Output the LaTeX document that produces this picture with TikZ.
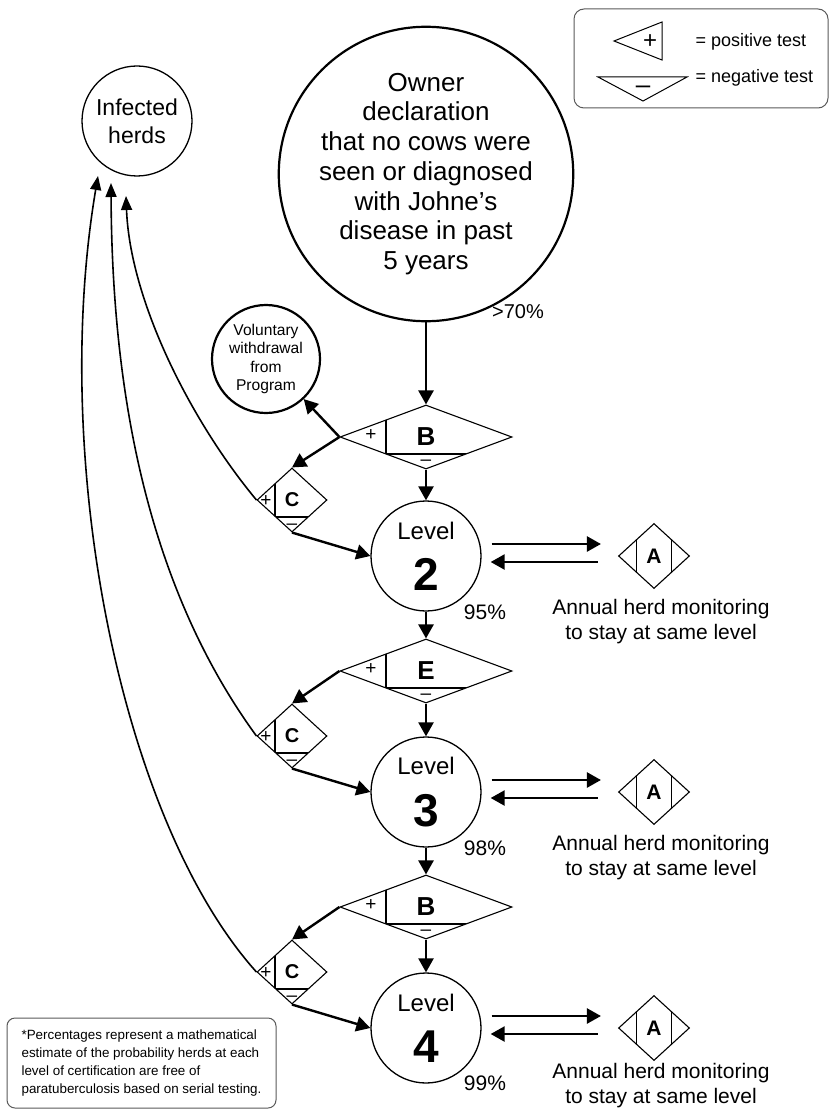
\documentclass[tikz,border=0pt]{standalone}
\usepackage{fontspec}
\setmainfont{Liberation Sans}
\usetikzlibrary{arrows.meta}
\usetikzlibrary{shapes.geometric}

\tikzset{
	bigtest/.style={diamond,draw,line width=1.1pt,inner sep=0pt,
		minimum width=172pt,minimum height=64pt,font=\fontsize{26}{26}\selectfont\bfseries,
		path picture={
			\draw[line width=1.1pt] ([shift={(-40pt,40pt)}]path picture bounding box.center)
				-- ([shift={(-40pt,-40pt)}]path picture bounding box.center);
			\draw[line width=1.1pt] ([shift={(-90pt,-17pt)}]path picture bounding box.center)
				-- ([shift={(90pt,-17pt)}]path picture bounding box.center);
		}},
	smalltest/.style={diamond,draw,line width=1.1pt,inner sep=0pt,
		minimum width=70pt,minimum height=64pt,font=\fontsize{20}{20}\selectfont\bfseries,
		path picture={
			\draw[line width=1.1pt] ([shift={(-17pt,40pt)}]path picture bounding box.center)
				-- ([shift={(-17pt,-40pt)}]path picture bounding box.center);
			\draw[line width=1.1pt] ([shift={(-40pt,-17pt)}]path picture bounding box.center)
				-- ([shift={(40pt,-17pt)}]path picture bounding box.center);
		}},
	annualtest/.style={diamond,draw,line width=1.1pt,inner sep=0pt,
		minimum width=71pt,minimum height=65pt,font=\fontsize{21}{21}\selectfont\bfseries,
		path picture={
			\draw[line width=1.1pt] ([shift={(-17.5pt,40pt)}]path picture bounding box.center)
				-- ([shift={(-17.5pt,-40pt)}]path picture bounding box.center);
			\draw[line width=1.1pt] ([shift={(17.5pt,40pt)}]path picture bounding box.center)
				-- ([shift={(17.5pt,-40pt)}]path picture bounding box.center);
		}},
	levelnode/.style={circle,draw,line width=1.3pt,minimum size=110pt,inner sep=0pt,align=center},
	signlabel/.style={font=\fontsize{19}{19}\selectfont,inner sep=0pt},
	monitortext/.style={align=center,font=\fontsize{21}{25}\selectfont},
	pctlabel/.style={font=\fontsize{21}{21}\selectfont},
	backarrow/.style={draw,line width=1.6pt,-{Triangle[length=14pt,width=11pt]}},
}

\begin{document}
\begin{tikzpicture}[x=1pt,y=-1pt]
	\useasboundingbox (0,0) rectangle (830,1110);

	% legend
	\draw[draw=black!65,line width=1pt,rounded corners=10pt] (574,9) rectangle (828,108);
	\draw[line width=1pt] (614,41) -- (662,22) -- (662,60) -- cycle;
	\draw[line width=1pt] (598,77) -- (687,77) -- (643,101) -- cycle;
	\node[font=\fontsize{24}{24}\selectfont,inner sep=0pt] (plus) at (650,42) {+};
	\node[font=\fontsize{26}{26}\selectfont,inner sep=0pt] (minus) at (643,90) {–};
	\node[anchor=west,font=\fontsize{18}{18}\selectfont] (postext) at (692,42) {= positive test};
	\node[anchor=west,font=\fontsize{18}{18}\selectfont] (negtext) at (692,78) {= negative test};

	\begin{scope}[every node/.style={circle,draw,align=center,inner sep=0pt}]
		\node[line width=2.2pt,minimum size=246pt,font=\fontsize{26}{29.7}\selectfont] (owner) at (426,174)
			{Owner\\declaration\\that no cows were\\seen or diagnosed\\with Johne's\\disease in past\\5 years};
		\node[line width=1.3pt,minimum size=110pt,font=\fontsize{23}{28}\selectfont] (inf) at (137,121)
			{Infected\\herds};
		\node[line width=2.2pt,minimum size=108pt,font=\fontsize{15.6}{18.5}\selectfont] (vol) at (266,359)
			{Voluntary\\withdrawal\\from\\Program};
	\end{scope}

	\node[levelnode] (lv2) at (426,556) {\fontsize{24}{24}\selectfont Level\\[18pt]\fontsize{46}{46}\selectfont\bfseries 2};
	\node[levelnode] (lv3) at (426,792) {\fontsize{24}{24}\selectfont Level\\[18pt]\fontsize{46}{46}\selectfont\bfseries 3};
	\node[levelnode] (lv4) at (426,1028) {\fontsize{24}{24}\selectfont Level\\[18pt]\fontsize{46}{46}\selectfont\bfseries 4};

	\node[bigtest] (b1) at (426,437) {B};
	\node[bigtest] (e2) at (426,671) {E};
	\node[bigtest] (b3) at (426,907) {B};

	\node[smalltest] (c1) at (292,500) {C};
	\node[smalltest] (c2) at (292,736) {C};
	\node[smalltest] (c3) at (292,972) {C};

	\node[annualtest] (a2) at (654,556) {A};
	\node[annualtest] (a3) at (654,792) {A};
	\node[annualtest] (a4) at (654,1028) {A};

	% plus and minus marks
	\node[signlabel] (b1p) at (371,435) {+};
	\node[signlabel] (b1m) at (426,463) {–};
	\node[signlabel] (e2p) at (371,669) {+};
	\node[signlabel] (e2m) at (426,697) {–};
	\node[signlabel] (b3p) at (371,905) {+};
	\node[signlabel] (b3m) at (426,933) {–};
	\node[signlabel] (c1p) at (266,501) {+};
	\node[signlabel] (c1m) at (292,527) {–};
	\node[signlabel] (c2p) at (266,737) {+};
	\node[signlabel] (c2m) at (292,763) {–};
	\node[signlabel] (c3p) at (266,973) {+};
	\node[signlabel] (c3m) at (292,999) {–};

	% percentages and captions
	\node[font=\fontsize{20}{20}\selectfont] (p1) at (518,312) {>70\%};
	\node[pctlabel] (p2) at (485,612) {95\%};
	\node[pctlabel] (p3) at (485,848) {98\%};
	\node[pctlabel] (p4) at (485,1083) {99\%};
	\node[monitortext] (m2) at (661,622) {Annual herd monitoring\\to stay at same level};
	\node[monitortext] (m3) at (661,858) {Annual herd monitoring\\to stay at same level};
	\node[monitortext] (m4) at (661,1086) {Annual herd monitoring\\to stay at same level};

	\node[draw=black!65,line width=1pt,rounded corners=8pt,align=left,inner sep=2pt,
		minimum width=269pt,minimum height=90pt,font=\fontsize{13.4}{18.3}\selectfont] (note) at (141.5,1063)
		{*Percentages represent a mathematical\\estimate of the probability herds at each\\level of certification are free of\\paratuberculosis based on serial testing.};

	\begin{scope}[every edge/.style={draw,line width=2.4pt},
				  >={Triangle[length=14pt,width=15pt]}]
		\path [->] (owner.south) edge (b1.north);
		\path [->] (b1.west) edge (vol);
		\path [->] (b1.west) edge (c1.north);
		\path [->] (b1.south) edge (lv2.north);
		\path [->] (c1.south) edge (lv2.west);
		\path [->] (lv2.south) edge (e2.north);
		\path [->] (e2.west) edge (c2.north);
		\path [->] (e2.south) edge (lv3.north);
		\path [->] (c2.south) edge (lv3.west);
		\path [->] (lv3.south) edge (b3.north);
		\path [->] (b3.west) edge (c3.north);
		\path [->] (b3.south) edge (lv4.north);
		\path [->] (c3.south) edge (lv4.west);

		\path [->] ([shift={(10pt,12pt)}]lv2.east) edge ([shift={(-17pt,12pt)}]a2.west);
		\path [->] ([shift={(-20pt,-6pt)}]a2.west) edge ([shift={(9pt,-6pt)}]lv2.east);
		\path [->] ([shift={(10pt,12pt)}]lv3.east) edge ([shift={(-17pt,12pt)}]a3.west);
		\path [->] ([shift={(-20pt,-6pt)}]a3.west) edge ([shift={(9pt,-6pt)}]lv3.east);
		\path [->] ([shift={(10pt,12pt)}]lv4.east) edge ([shift={(-17pt,12pt)}]a4.west);
		\path [->] ([shift={(-20pt,-6pt)}]a4.west) edge ([shift={(9pt,-6pt)}]lv4.east);
	\end{scope}

	% back to infected herds
	\coordinate (inf1) at (126,196);
	\coordinate (inf2) at (111,183);
	\coordinate (inf3) at (98,176);
	\draw[backarrow] (c1.west) .. controls (190,420) and (130,300) .. (inf1);
	\draw[backarrow] (c2.west) .. controls (150,590) and (112,400) .. (inf2);
	\draw[backarrow] (c3.west) .. controls (120,820) and (50,460) .. (inf3);
\end{tikzpicture}
\end{document}
